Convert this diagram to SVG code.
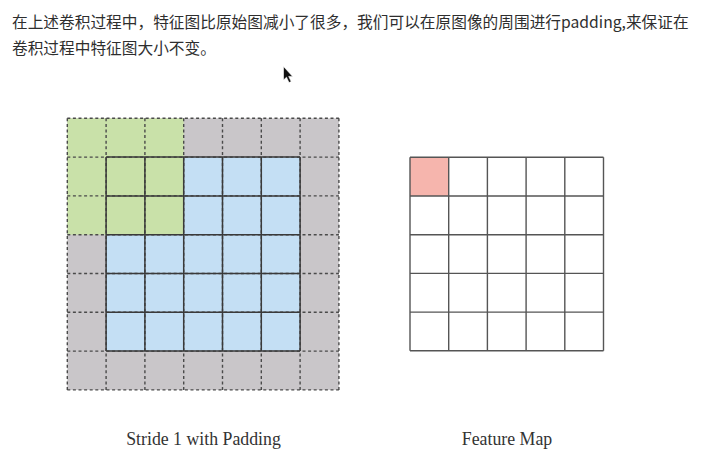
<svg xmlns="http://www.w3.org/2000/svg" width="707" height="467" viewBox="0 0 707 467">
<style>
.intro{font-family:"Noto Sans CJK SC","Noto Sans",sans-serif;font-size:15.7px;fill:#2e2e2e}
.cap{font-family:"Liberation Serif",serif;font-size:17.8px;fill:#333;text-anchor:middle}
.dash{stroke:#4a4a4a;stroke-width:1.4;stroke-dasharray:3 2.6;fill:none}
.solid{stroke:#3a3a3a;stroke-width:1.5;fill:none}
.fm{stroke:#555;stroke-width:1.4;fill:none}
</style>
<rect width="707" height="467" fill="#ffffff"/>
<g id="intro-text">
<text class="intro" x="12" y="28">在上述卷积过程中，特征图比原始图减小了很多，我们可以在原图像的周围进行padding,来保证在</text>
<text class="intro" x="12" y="54">卷积过程中特征图大小不变。</text>
</g>
<g id="cursor">
<path d="M283.5,66.5 L283.5,80 L286.5,77.2 L289,82.6 L291.2,81.6 L288.7,76.4 L292.6,76.4 Z" fill="#111" stroke="#fff" stroke-width="0.6"/>
</g>
<g id="padded-input">
<rect x="67.3" y="118.3" width="271.6" height="271.6" fill="#c9c6c9"/>
<rect x="106.1" y="157.1" width="194" height="194" fill="#c4dff4"/>
<rect x="67.3" y="118.3" width="116.4" height="116.4" fill="#c9e1a9"/>
<path class="dash" d="M67.3,118.3V389.9M106.1,118.3V389.9M144.9,118.3V389.9M183.7,118.3V389.9M222.5,118.3V389.9M261.3,118.3V389.9M300.1,118.3V389.9M338.9,118.3V389.9M67.3,118.3H338.9M67.3,157.1H338.9M67.3,195.9H338.9M67.3,234.7H338.9M67.3,273.5H338.9M67.3,312.3H338.9M67.3,351.1H338.9M67.3,389.9H338.9"/>
<path class="solid" d="M106.1,157.1V351.1M144.9,157.1V351.1M183.7,157.1V351.1M222.5,157.1V351.1M261.3,157.1V351.1M300.1,157.1V351.1M106.1,157.1H300.1M106.1,195.9H300.1M106.1,234.7H300.1M106.1,273.5H300.1M106.1,312.3H300.1M106.1,351.1H300.1"/>
<text class="cap" x="203.5" y="445">Stride 1 with Padding</text>
</g>
<g id="feature-map">
<rect x="410" y="157.3" width="38.7" height="38.7" fill="#f6b5ad"/>
<path class="fm" d="M410,157.3V350.8M448.7,157.3V350.8M487.4,157.3V350.8M526.1,157.3V350.8M564.8,157.3V350.8M603.5,157.3V350.8M410,157.3H603.5M410,196H603.5M410,234.7H603.5M410,273.4H603.5M410,312.1H603.5M410,350.8H603.5"/>
<text class="cap" x="507" y="445">Feature Map</text>
</g>
<g id="connectors"></g>
</svg>
